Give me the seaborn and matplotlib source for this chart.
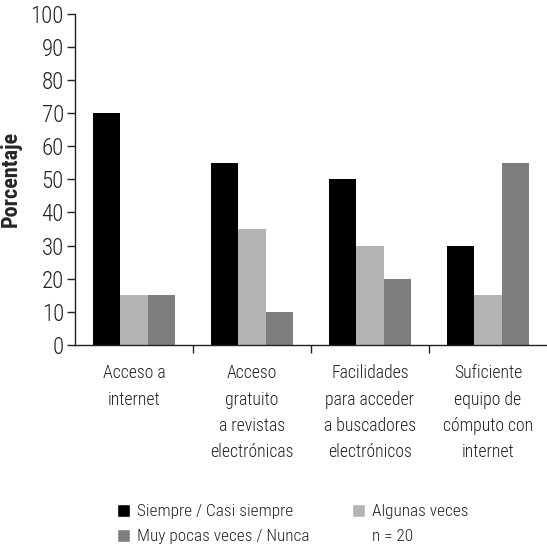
import pandas as pd
import numpy as np
import matplotlib.pyplot as plt
import seaborn as sns
from matplotlib.patches import Patch

# datos del gráfico
categorias = ['Acceso a\ninternet', 'Acceso\ngratuito\na revistas\nelectrónicas',
              'Facilidades\npara acceder\na buscadores\nelectrónicos',
              'Suficiente\nequipo de\ncómputo con\ninternet']
series = ['Siempre / Casi siempre', 'Algunas veces', 'Muy pocas veces / Nunca']
siempre = [70, 55, 50, 30]
algunas = [15, 35, 30, 15]
muy_pocas = [15, 10, 20, 55]
colores = ['#000000', '#b3b4b6', '#7d7e80']

df = pd.DataFrame({
    'Categoria': categorias * 3,
    'Serie': [series[0]] * 4 + [series[1]] * 4 + [series[2]] * 4,
    'Porcentaje': siempre + algunas + muy_pocas,
})

sns.set_style('ticks')
plt.rcParams['font.family'] = ['Roboto Condensed', 'DejaVu Sans']
plt.rcParams['font.weight'] = 300

fig = plt.figure(figsize=(5.47, 5.5), dpi=100)
ax = fig.add_axes([0.137, 0.373, 0.863, 0.602])

sns.barplot(data=df, x='Categoria', y='Porcentaje', hue='Serie', hue_order=series,
            palette=colores, width=0.69, saturation=1, edgecolor='none',
            legend=False, ax=ax)

ax.set_xlim(-0.5, 3.5)
ax.set_ylim(0, 100)
ax.set_yticks(range(0, 101, 10))
ax.tick_params(axis='y', labelsize=16.5, length=6, width=1, colors='#222222', pad=2)
ax.set_xticks(range(4))
ax.set_xticklabels(categorias, fontsize=12.8, color='#222222', linespacing=1.6)
ax.tick_params(axis='x', which='major', length=0, pad=14)
ax.set_xticks([0.5, 1.5, 2.5], minor=True)
ax.tick_params(axis='x', which='minor', length=6, width=1, color='#222222')
ax.set_xlabel('')
ax.set_ylabel('Porcentaje', fontsize=16, fontweight='bold', labelpad=6)
sns.despine(ax=ax)
for s in ['left', 'bottom']:
    ax.spines[s].set_color('#222222')
    ax.spines[s].set_linewidth(1)

# leyenda
handles = [Patch(facecolor=colores[0]), Patch(facecolor=colores[2]),
           Patch(facecolor=colores[1]), Patch(facecolor='none', edgecolor='none')]
labels = [series[0], series[2], series[1], 'n = 20']
fig.legend(handles, labels, ncol=2, loc='center', bbox_to_anchor=(0.535, 0.047),
           frameon=False, fontsize=12.4, handlelength=0.75, handleheight=0.75,
           handletextpad=0.4, columnspacing=2.5, labelspacing=0.55,
           labelcolor='#222222')

plt.savefig('out.png', dpi=100)
